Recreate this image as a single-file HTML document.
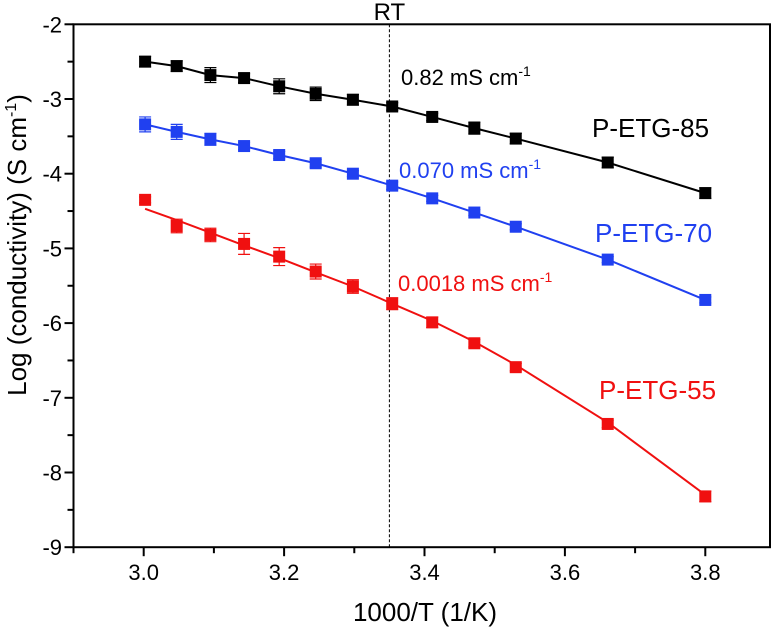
<!DOCTYPE html>
<html><head><meta charset="utf-8"><style>
html,body{margin:0;padding:0;background:#fff}
svg{display:block;font-family:"Liberation Sans",Arial,sans-serif}
</style></head><body>
<svg id="chart" width="776" height="628" viewBox="0 0 776 628" xmlns="http://www.w3.org/2000/svg"></svg>
<script>
const xValues = [3.002,3.047,3.095,3.143,3.193,3.245,3.298,3.354,3.411,3.471,3.53,3.661,3.8];
const black85 = [-2.50,-2.56,-2.68,-2.72,-2.83,-2.93,-3.01,-3.10,-3.24,-3.39,-3.53,-3.85,-4.26];
const blue70 = [-3.34,-3.44,-3.54,-3.63,-3.75,-3.86,-4.00,-4.16,-4.33,-4.52,-4.71,-5.15,-5.69];
const red55 = [-4.35,-4.70,-4.82,-4.94,-5.11,-5.31,-5.51,-5.74,-5.99,-6.27,-6.59,-7.35,-8.32];
const red55Fit = [-4.47,-4.62,-4.79,-4.96,-5.13,-5.32,-5.51,-5.74,-5.97,-6.25,-6.56,-7.33,-8.30];
const errBlack = [0.07,0.07,0.1,0.06,0.1,0.09,0.07,0.05,0.05,0.08,0.07,0.07,0.07];
const errBlue = [0.1,0.1,0.08,0.05,0.05,0.05,0.04,0.05,0.04,0.04,0.04,0.04,0.04];
const errRed = [0.04,0.09,0.09,0.14,0.12,0.1,0.09,0.08,0.07,0.05,0.05,0.05,0.07];
const xTicks = [3.0,3.2,3.4,3.6,3.8];
const yTicks = [-2,-3,-4,-5,-6,-7,-8,-9];
const rtX = 3.35;

const X0=73.5, XPER=702, XMIN=2.9, Y0=24.3, YPER=74.7, YMAX=-2;
function sx(v){return X0+(v-XMIN)*XPER;}
function sy(v){return Y0+(YMAX-v)*YPER;}
const svg=document.getElementById('chart');
const NS='http://www.w3.org/2000/svg';
function mk(tag,attrs,parent){const e=document.createElementNS(NS,tag);for(const k in attrs)e.setAttribute(k,attrs[k]);(parent||svg).appendChild(e);return e;}

// axes frame
const frame=mk('rect',{x:X0,y:Y0,width:770-X0,height:sy(-9)-Y0,fill:'none',stroke:'#000','stroke-width':2});



// RT line
const rt=mk('line',{x1:sx(rtX),x2:sx(rtX),y1:Y0,y2:sy(-9),stroke:'#000','stroke-width':1,'stroke-dasharray':'3,2'});


const rtl=mk('text',{x:sx(rtX),y:20,'text-anchor':'middle','font-size':24});
rtl.textContent='RT';



// x ticks
for(let v=2.9;v<=3.85;v+=0.1){
  const major=Math.abs(Math.round(v*10)%2)===0;
  const t=mk('line',{x1:sx(v),x2:sx(v),y1:sy(-9),y2:sy(-9)+(major?9:6),stroke:'#000','stroke-width':2});
  
  
}
xTicks.forEach(v=>{
  const t=mk('text',{x:sx(v),y:580,'text-anchor':'middle','font-size':22});
  t.textContent=v.toFixed(1);
  
  
});
// y ticks
for(let v=-2;v>=-9;v-=0.5){
  const major=Number.isInteger(v);
  const t=mk('line',{x1:X0-(major?9:6),x2:X0,y1:sy(v),y2:sy(v),stroke:'#000','stroke-width':2});
  
  
}
yTicks.forEach(v=>{
  const t=mk('text',{x:62,y:sy(v)+8,'text-anchor':'end','font-size':22});
  t.textContent=String(v);
  
  
});
const xt=mk('text',{x:425,y:621,'text-anchor':'middle','font-size':26});
xt.textContent='1000/T (1/K)';


const yt=mk('text',{x:0,y:0,'text-anchor':'middle','font-size':26,transform:'translate(26,245) rotate(-90)'});
yt.innerHTML='Log (conductivity) (S cm<tspan font-size="16" dy="-10">-1</tspan><tspan dy="10">)</tspan>';



function series(vals,fit,err,color,name){
  const g=mk('g',{});
  
  
  const pl=mk('polyline',{points:xValues.map((x,i)=>sx(x)+','+sy(fit[i])).join(' '),fill:'none',stroke:color,'stroke-width':2},g);
  
  
  xValues.forEach((x,i)=>{
    const cx=sx(x),cy=sy(vals[i]),e=err[i]*YPER;
    const eb=mk('path',{d:`M${cx},${cy-e}V${cy+e}M${cx-6},${cy-e}H${cx+6}M${cx-6},${cy+e}H${cx+6}`,stroke:color,'stroke-width':1.2,fill:'none'},g);
    
    
    const r=mk('rect',{x:cx-6,y:cy-6,width:12,height:12,fill:color},g);
    
    
  });
}
series(black85,black85,errBlack,'#000','p-etg-85');
series(blue70,blue70,errBlue,'#2040f0','p-etg-70');
series(red55,red55Fit,errRed,'#f01010','p-etg-55');

function label(txt,x,y,size,color,name,sup){
  const t=mk('text',{x:x,y:y,'font-size':size,fill:color});
  if(sup) t.innerHTML=txt+'<tspan font-size="14" dy="-9">-1</tspan>'; else t.textContent=txt;
  
  
}
label('0.82 mS cm',401,85,22,'#000','conductivity-annotation-85',true);
label('0.070 mS cm',399,178,22,'#2040f0','conductivity-annotation-70',true);
label('0.0018 mS cm',398,291,22,'#f01010','conductivity-annotation-55',true);
label('P-ETG-85',592,137,26,'#000','series-label-85');
label('P-ETG-70',595,242,26,'#2040f0','series-label-70');
label('P-ETG-55',599,399,26,'#f01010','series-label-55');
</script>
</body></html>
